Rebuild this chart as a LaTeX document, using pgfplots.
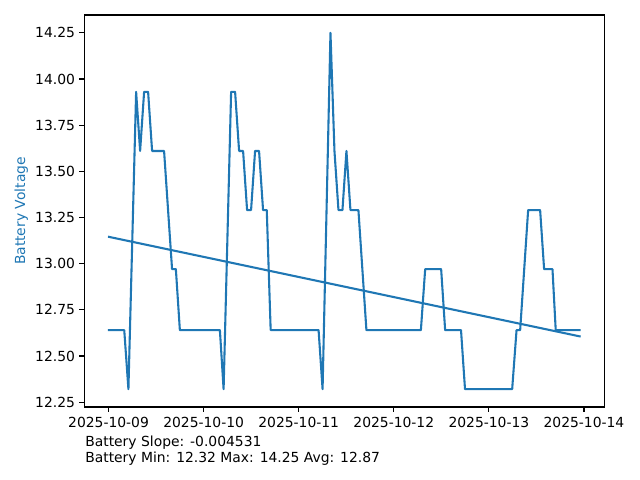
\documentclass[border=0pt]{standalone}
\usepackage{fontspec}
\setmainfont{DejaVu Sans}
\usepackage{pgfplots}
\pgfplotsset{compat=1.18}
\definecolor{tabblue}{RGB}{31,119,180}

\begin{document}
\begin{tikzpicture}
\useasboundingbox (-60.7pt,-52.56pt) rectangle (400.1pt,293.04pt);
\begin{axis}[
    at={(0,0)}, anchor=south west,
    scale only axis,
    width=374.4pt, height=282.24pt,
    xmin=-0.255, xmax=5.214,
    ymin=12.2235, ymax=14.3465,
    font=\fontsize{10}{12}\selectfont,
    axis line style={line width=0.8pt},
    tick align=outside,
    xtick pos=bottom, ytick pos=left,
    major tick length=3.5pt,
    tick style={black, line width=0.8pt},
    xtick={0,1,2,3,4,5},
    xticklabels={2025-10-09,2025-10-10,2025-10-11,2025-10-12,2025-10-13,2025-10-14},
    ytick={12.25,12.5,12.75,13,13.25,13.5,13.75,14,14.25},
    /pgf/number format/fixed,
    /pgf/number format/fixed zerofill,
    /pgf/number format/precision=2,
    /pgf/number format/assume math mode=true,
    xticklabel style={anchor=north, inner sep=0pt, yshift=-3.8pt},
    yticklabel style={anchor=east, inner sep=0pt, xshift=-3pt},
    ylabel={Battery Voltage},
    every axis y label/.style={at={(axis description cs:-0.121,0.5)}, anchor=center, rotate=90, text=tabblue},
    clip=false,
]
% battery readings, x = days since 2025-10-09 00:00
\addplot[tabblue, line width=1.5pt, line join=round] coordinates {
    (-0.006,12.64) (0.165,12.64) (0.209,12.32) (0.290,13.93) (0.332,13.61)
    (0.374,13.93) (0.416,13.93) (0.458,13.61) (0.584,13.61) (0.668,12.97)
    (0.708,12.97) (0.750,12.64) (1.171,12.64) (1.210,12.32) (1.289,13.93)
    (1.331,13.93) (1.373,13.61) (1.415,13.61) (1.457,13.29) (1.499,13.29)
    (1.541,13.61) (1.583,13.61) (1.625,13.29) (1.664,13.29) (1.705,12.64)
    (2.209,12.64) (2.251,12.32) (2.334,14.25) (2.376,13.61) (2.418,13.29)
    (2.460,13.29) (2.502,13.61) (2.544,13.29) (2.628,13.29) (2.712,12.64)
    (3.285,12.64) (3.330,12.97) (3.498,12.97) (3.540,12.64) (3.707,12.64)
    (3.749,12.32) (4.245,12.32) (4.291,12.64) (4.329,12.64) (4.413,13.29)
    (4.539,13.29) (4.581,12.97) (4.669,12.97) (4.703,12.64) (4.965,12.64)
};
% linear trend
\addplot[tabblue, line width=1.5pt] coordinates {
    (-0.006,13.146) (4.965,12.605)
};
\end{axis}
\node[anchor=base west, inner sep=0pt, font=\fontsize{10}{12}\selectfont] at (0.5pt,-28.1pt) {Battery Slope: -0.004531};
\node[anchor=base west, inner sep=0pt, font=\fontsize{10}{12}\selectfont] at (0.5pt,-39.6pt) {Battery Min: 12.32 Max: 14.25 Avg: 12.87};
\end{tikzpicture}
\end{document}
